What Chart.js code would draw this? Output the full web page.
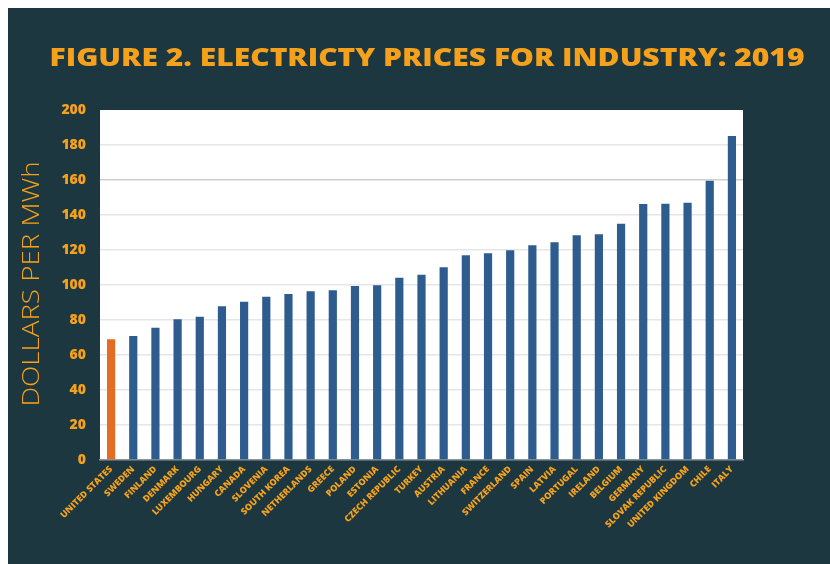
<!DOCTYPE html>
<html>
<head>
<meta charset="utf-8">
<script src="https://cdn.jsdelivr.net/npm/chart.js@4/dist/chart.umd.min.js"></script>
<style>
  html, body { margin: 0; padding: 0; background: #ffffff; }
  #wrap { position: absolute; left: 8px; top: 8px; width: 822px; height: 556px; background: #1c3740; }
  canvas { display: block; }
</style>
</head>
<body>
<div id="wrap"><canvas id="c" width="822" height="556"></canvas></div>
<script>
const countries = ["UNITED STATES","SWEDEN","FINLAND","DENMARK","LUXEMBOURG","HUNGARY","CANADA","SLOVENIA","SOUTH KOREA","NETHERLANDS","GREECE","POLAND","ESTONIA","CZECH REPUBLIC","TURKEY","AUSTRIA","LITHUANIA","FRANCE","SWITZERLAND","SPAIN","LATVIA","PORTUGAL","IRELAND","BELGIUM","GERMANY","SLOVAK REPUBLIC","UNITED KINGDOM","CHILE","ITALY"];
const pricesPerMWh = [69.0,70.9,75.6,80.4,81.9,87.8,90.5,93.3,94.9,96.4,97.0,99.4,99.8,104.2,105.9,110.1,117.0,118.1,119.8,122.7,124.4,128.4,129.0,135.0,146.3,146.5,147.0,159.6,185.1];
const yTicks = [0,20,40,60,80,100,120,140,160,180,200];
const highlight = "UNITED STATES";
const chartTitle = "FIGURE 2. ELECTRICTY PRICES FOR INDUSTRY: 2019";
const yAxisTitle = "DOLLARS PER MWh";

const ORANGE_TEXT = "#f5a11c";
const barColors = countries.map(c => c === highlight ? "#e46d26" : "#2f5c8f");

function drawFitted(ctx, text, font, cx, cy, width, angle) {
  ctx.save();
  ctx.font = font;
  ctx.fillStyle = ORANGE_TEXT;
  ctx.textAlign = "center";
  ctx.textBaseline = "middle";
  const w = ctx.measureText(text).width;
  ctx.translate(cx, cy);
  ctx.rotate(angle);
  ctx.scale(width / w, 1);
  ctx.fillText(text, 0, 0);
  ctx.restore();
}

const decor = {
  id: "decor",
  beforeDraw(chart) {
    const a = chart.chartArea, ctx = chart.ctx;
    ctx.save();
    ctx.fillStyle = "#ffffff";
    ctx.fillRect(a.left, a.top, a.right - a.left, a.bottom - a.top);
    ctx.restore();
  },
  afterDraw(chart) {
    const ctx = chart.ctx;
    drawFitted(ctx, chartTitle, "800 25px 'Open Sans', sans-serif", 419, 51, 755, 0);
    drawFitted(ctx, yAxisTitle, "300 24px 'Open Sans', sans-serif", 24, 276, 245, -Math.PI / 2);
  }
};

new Chart(document.getElementById("c"), {
  type: "bar",
  data: {
    labels: countries,
    datasets: [{
      data: pricesPerMWh,
      backgroundColor: barColors,
      borderWidth: 0,
      barPercentage: 0.37,
      categoryPercentage: 1.0
    }]
  },
  options: {
    responsive: false,
    animation: false,
    devicePixelRatio: 1,
    layout: { padding: { left: 0, right: 87, top: 102, bottom: 0 } },
    plugins: {
      legend: { display: false },
      tooltip: { enabled: false },
      title: { display: false }
    },
    scales: {
      x: {
        grid: { display: false, drawTicks: false },
        border: { display: true, color: "#8d9598", width: 1.5 },
        ticks: {
          color: ORANGE_TEXT,
          font: { family: "'Open Sans', sans-serif", size: 9, weight: 800 },
          minRotation: 45,
          maxRotation: 45,
          autoSkip: false,
          padding: 4
        },
        afterFit(scale) { scale.height = 104; }
      },
      y: {
        min: 0,
        max: 200,
        afterBuildTicks(scale) { scale.ticks = yTicks.map(v => ({ value: v })); },
        grid: {
          drawTicks: false,
          lineWidth: 1.5,
          color(ctx) {
            const v = ctx.tick && ctx.tick.value;
            if (v === 200 || v === 0) return "rgba(0,0,0,0)";
            if (v === 160) return "#cfcfcf";
            return "#e6e6e6";
          }
        },
        border: { display: false },
        ticks: {
          color: ORANGE_TEXT,
          font: { family: "'Open Sans', sans-serif", size: 14, weight: 800 },
          padding: 14
        },
        afterFit(scale) { scale.width = 92; }
      }
    }
  },
  plugins: [decor]
});
</script>
</body>
</html>
